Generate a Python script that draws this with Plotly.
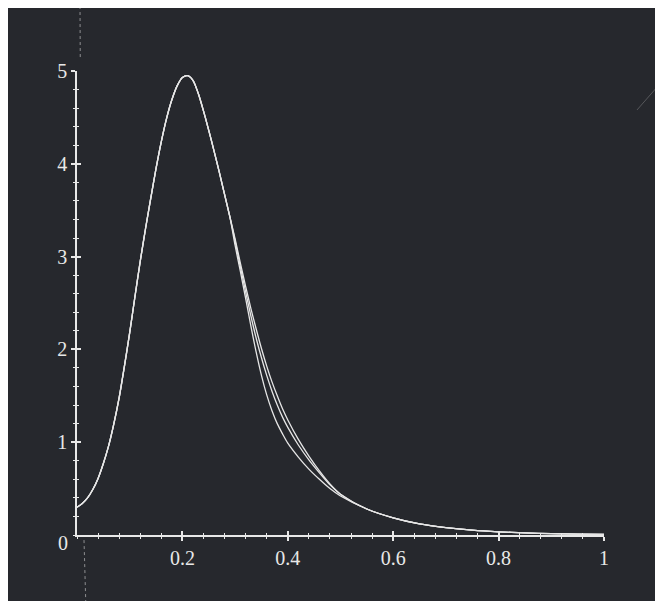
import plotly.graph_objects as go

# ---- data ----
x_vals = [0.00, 0.01, 0.02, 0.03, 0.04, 0.05, 0.06, 0.07, 0.08, 0.09,
          0.10, 0.11, 0.12, 0.13, 0.14, 0.15, 0.16, 0.17, 0.18, 0.19,
          0.20, 0.21, 0.22, 0.23, 0.24, 0.25, 0.26, 0.27, 0.28, 0.29,
          0.30, 0.31, 0.32, 0.33, 0.34, 0.35, 0.36, 0.37, 0.38, 0.39, 0.40,
          0.42, 0.44, 0.46, 0.48, 0.50,
          0.55, 0.60, 0.65, 0.70, 0.75, 0.80, 0.85, 0.90, 0.95, 1.00]

# common part of the three curves (x = 0.00 .. 0.29)
y_common_rise = [0.30, 0.34, 0.40, 0.49, 0.61, 0.77, 0.96, 1.20, 1.48, 1.82,
                 2.18, 2.57, 2.95, 3.30, 3.63, 3.95, 4.24, 4.49, 4.69, 4.84,
                 4.93, 4.95, 4.90, 4.76, 4.57, 4.36, 4.14, 3.91, 3.67, 3.43]

# where the three curves separate (x = 0.30 .. 0.50)
y_outer_split = [3.19, 2.93, 2.68, 2.44, 2.22, 2.01, 1.82, 1.65, 1.50, 1.36, 1.24,
                 1.03, 0.85, 0.69, 0.55, 0.44]
y_middle_split = [3.17, 2.89, 2.62, 2.36, 2.12, 1.91, 1.72, 1.55, 1.40, 1.27, 1.16,
                  0.97, 0.81, 0.67, 0.54, 0.44]
y_inner_split = [3.12, 2.84, 2.55, 2.25, 1.97, 1.72, 1.51, 1.34, 1.20, 1.09, 0.99,
                 0.84, 0.71, 0.60, 0.50, 0.42]

# common tail (x = 0.55 .. 1.00)
y_common_tail = [0.28, 0.185, 0.12, 0.08, 0.052, 0.034, 0.022, 0.015, 0.010, 0.007]

y_outer = y_common_rise + y_outer_split + y_common_tail
y_middle = y_common_rise + y_middle_split + y_common_tail
y_inner = y_common_rise + y_inner_split + y_common_tail

x_tick_vals = [0.2, 0.4, 0.6, 0.8, 1.0]
x_tick_text = ["0.2", "0.4", "0.6", "0.8", "1"]
y_tick_vals = [1, 2, 3, 4, 5]
y_tick_text = ["1", "2", "3", "4", "5"]

BG = "#26282d"
FG = "#e8e8e8"
FONT = dict(family="Liberation Serif", size=20, color=FG)

fig = go.Figure()
for ys in (y_outer, y_middle, y_inner):
    fig.add_trace(go.Scatter(
        x=x_vals, y=ys, mode="lines",
        line=dict(color="#e6e6e6", width=1.3, shape="spline", smoothing=0.8),
        showlegend=False, hoverinfo="skip"))

# empty trace so overlay axes (for crossing ticks) are drawn
fig.add_trace(go.Scatter(x=[], y=[], xaxis="x2", yaxis="y2", showlegend=False))

common = dict(showgrid=False, zeroline=False, fixedrange=True)

# the page body adds an 8px white margin on top/left (acts as the scan's white border)
fig.update_layout(
    width=663, height=601,
    margin=dict(l=69, r=67, t=63, b=74),
    paper_bgcolor=BG, plot_bgcolor=BG,
    xaxis=dict(range=[0, 1], showline=True, linecolor=FG, linewidth=1.5,
               tickmode="array", tickvals=x_tick_vals, ticktext=x_tick_text,
               ticks="outside", ticklen=4, tickwidth=1.5, tickcolor=FG,
               tickfont=FONT,
               minor=dict(tickmode="linear", tick0=0, dtick=0.04, ticks="outside",
                          ticklen=2, tickwidth=1.2, tickcolor=FG),
               **common),
    xaxis2=dict(range=[0, 1], overlaying="x", anchor="y", side="bottom",
                showline=False, showticklabels=False,
                tickmode="array", tickvals=x_tick_vals,
                ticks="inside", ticklen=4, tickwidth=1.5, tickcolor=FG,
                minor=dict(tickmode="linear", tick0=0, dtick=0.04, ticks="inside",
                           ticklen=2, tickwidth=1.2, tickcolor=FG),
                **common),
    yaxis=dict(range=[0, 5], showline=True, linecolor=FG, linewidth=1.5,
               tickmode="array", tickvals=y_tick_vals, ticktext=y_tick_text,
               ticks="outside", ticklen=4, tickwidth=1.5, tickcolor=FG,
               tickfont=FONT,
               minor=dict(tickmode="linear", tick0=0, dtick=0.2, ticks="outside",
                          ticklen=2, tickwidth=1.2, tickcolor=FG),
               **common),
    yaxis2=dict(range=[0, 5], overlaying="y", anchor="x", side="left",
                showline=False, showticklabels=False,
                tickmode="array", tickvals=y_tick_vals,
                ticks="inside", ticklen=4, tickwidth=1.5, tickcolor=FG,
                minor=dict(tickmode="linear", tick0=0, dtick=0.2, ticks="inside",
                           ticklen=2, tickwidth=1.2, tickcolor=FG),
                **common),
    annotations=[dict(text="0", x=-0.027, y=-0.017, xref="paper", yref="paper",
                      xanchor="center", yanchor="middle", showarrow=False, font=FONT)],
    shapes=[
        # faint scan crease lines
        dict(type="line", xref="paper", yref="paper", x0=0.0057, y0=1.14, x1=0.0062, y1=1.024,
             line=dict(color="rgba(225,225,225,0.55)", width=1, dash="dot")),
        dict(type="line", xref="paper", yref="paper", x0=0.0133, y0=-0.011, x1=0.017, y1=-0.16,
             line=dict(color="rgba(225,225,225,0.55)", width=1, dash="dot")),
        dict(type="line", xref="paper", yref="paper", x0=1.0626, y0=0.916, x1=1.112, y1=0.98,
             line=dict(color="rgba(200,200,200,0.3)", width=1)),
    ],
)

fig.write_html("out.html")
